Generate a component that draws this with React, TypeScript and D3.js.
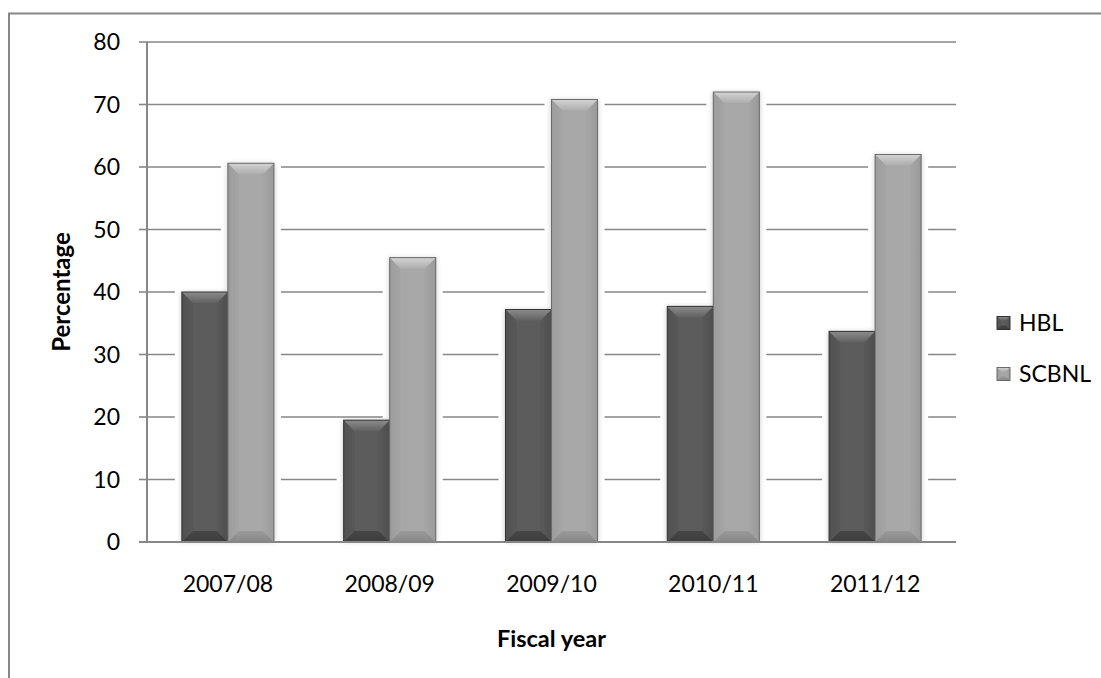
import React from "react";
import * as d3 from "d3";

// Fiscal years on the category axis
const years = ["2007/08", "2008/09", "2009/10", "2010/11", "2011/12"];
// Series names and values (percent)
const seriesNames = ["HBL", "SCBNL"];
const hblValues = [40.0, 19.5, 37.2, 37.7, 33.7];
const scbnlValues = [60.6, 45.5, 70.8, 72.0, 62.0];
// Value-axis ticks
const yTicks = [0, 10, 20, 30, 40, 50, 60, 70, 80];

const W = 1101;
const H = 678;
const plot = { left: 147, right: 956, top: 42, bottom: 542 };
const FONT = "Lato, 'Open Sans', 'DejaVu Sans', sans-serif";
const GRID = "#878787";

type Palette = {
  body: [string, string, string];
  top: [string, string];
  bottom: [string, string];
  side: string;
  stroke: string;
};

const palettes: Record<string, Palette> = {
  HBL: {
    body: ["#4e4e4e", "#5c5c5c", "#4b4b4b"],
    top: ["#8c8c8c", "#616161"],
    bottom: ["#474747", "#3c3c3c"],
    side: "#535353",
    stroke: "#333333",
  },
  SCBNL: {
    body: ["#979797", "#a8a8a8", "#959595"],
    top: ["#d4d4d4", "#adadad"],
    bottom: ["#9a9a9a", "#888888"],
    side: "#a0a0a0",
    stroke: "#6a6a6a",
  },
};

function Defs() {
  return (
    <defs>
      <filter id="soft" x="-50%" y="-10%" width="200%" height="120%">
        <feGaussianBlur stdDeviation="2.5" />
      </filter>
      {seriesNames.map((s) => {
        const p = palettes[s];
        return (
          <React.Fragment key={s}>
            <linearGradient id={`body-${s}`} x1="0" x2="1" y1="0" y2="0">
              <stop offset="0" stopColor={p.body[0]} />
              <stop offset="0.2" stopColor={p.body[1]} />
              <stop offset="0.8" stopColor={p.body[1]} />
              <stop offset="1" stopColor={p.body[2]} />
            </linearGradient>
            <linearGradient id={`top-${s}`} x1="0" x2="0" y1="0" y2="1">
              <stop offset="0" stopColor={p.top[0]} />
              <stop offset="1" stopColor={p.top[1]} />
            </linearGradient>
            <linearGradient id={`bottom-${s}`} x1="0" x2="0" y1="0" y2="1">
              <stop offset="0" stopColor={p.bottom[0]} />
              <stop offset="1" stopColor={p.bottom[1]} />
            </linearGradient>
          </React.Fragment>
        );
      })}
    </defs>
  );
}

function BevelBar({ x, y, w, h, s, bevel }: { x: number; y: number; w: number; h: number; s: string; bevel: number }) {
  const p = palettes[s];
  const b = Math.min(bevel, h / 2, w / 2);
  const pts = (arr: number[][]) => arr.map((q) => q.join(",")).join(" ");
  return (
    <g>
      <rect x={x} y={y} width={w} height={h} fill={`url(#body-${s})`} />
      <polygon points={pts([[x, y], [x + b, y + b], [x + b, y + h - b], [x, y + h]])} fill={p.side} opacity={0.55} />
      <polygon points={pts([[x + w, y], [x + w - b, y + b], [x + w - b, y + h - b], [x + w, y + h]])} fill={p.side} opacity={0.4} />
      <polygon points={pts([[x, y], [x + w, y], [x + w - b, y + b], [x + b, y + b]])} fill={`url(#top-${s})`} />
      <polygon points={pts([[x, y + h], [x + w, y + h], [x + w - b, y + h - b], [x + b, y + h - b]])} fill={`url(#bottom-${s})`} />
      <rect x={x} y={y} width={w} height={h} fill="none" stroke={p.stroke} strokeWidth={1} />
    </g>
  );
}

export default function App() {
  const x0 = d3
    .scaleBand<string>()
    .domain(years)
    .range([plot.left, plot.right])
    .paddingInner(0.431)
    .paddingOuter(0.2155);
  const x1 = d3.scaleBand<string>().domain(seriesNames).range([0, x0.bandwidth()]);
  const y = d3.scaleLinear().domain([0, 80]).range([plot.bottom, plot.top]);

  const values: Record<string, number[]> = { HBL: hblValues, SCBNL: scbnlValues };

  const bars = years.flatMap((yr, i) =>
    seriesNames.map((s) => {
      const v = values[s][i];
      const bx = (x0(yr) as number) + (x1(s) as number);
      return { key: `${yr}-${s}`, s, x: bx, y: y(v), w: x1.bandwidth(), h: y(0) - y(v) };
    })
  );

  return (
    <svg
      width={W}
      height={H}
      style={{ position: "absolute", left: 0, top: 0, background: "#fff" }}
      fontFamily={FONT}
    >
      <Defs />
      {/* outer chart frame */}
      <rect x={9} y={13.5} width={W + 20} height={H + 20} fill="#fff" stroke={GRID} strokeWidth={2} />

      {/* horizontal gridlines */}
      {yTicks.slice(1).map((t) => (
        <line key={t} x1={plot.left} x2={plot.right} y1={y(t)} y2={y(t)} stroke={GRID} strokeWidth={1.6} />
      ))}

      {/* glow and shadow round each bar */}
      {bars.map((d) => (
        <rect key={`g-${d.key}`} x={d.x - 7} y={d.y - 2} width={d.w + 14} height={d.h + 2} fill="#fff" />
      ))}
      {bars.map((d) => (
        <rect
          key={`sh-${d.key}`}
          x={d.x - 1}
          y={d.y}
          width={d.w + 2}
          height={d.h}
          fill="#000"
          opacity={0.18}
          filter="url(#soft)"
        />
      ))}

      {/* bars */}
      {bars.map((d) => (
        <BevelBar key={d.key} x={d.x} y={d.y} w={d.w} h={d.h} s={d.s} bevel={11} />
      ))}

      {/* value axis */}
      <line x1={plot.left} x2={plot.left} y1={plot.top} y2={plot.bottom} stroke={GRID} strokeWidth={2} />
      {yTicks.map((t) => (
        <g key={`t-${t}`}>
          <line x1={plot.left - 8} x2={plot.left} y1={y(t)} y2={y(t)} stroke={GRID} strokeWidth={1.6} />
          <text x={120} y={y(t)} dy="0.35em" textAnchor="end" fontSize={23} fill="#000">
            {t}
          </text>
        </g>
      ))}
      {/* category axis */}
      <line x1={plot.left - 8} x2={plot.right} y1={plot.bottom} y2={plot.bottom} stroke={GRID} strokeWidth={2} />
      {years.map((yr) => (
        <text
          key={yr}
          x={(x0(yr) as number) + x0.bandwidth() / 2}
          y={592}
          textAnchor="middle"
          fontSize={23}
          fill="#000"
        >
          {yr}
        </text>
      ))}

      {/* axis titles */}
      <text
        transform={`translate(70, ${(plot.top + plot.bottom) / 2}) rotate(-90)`}
        textAnchor="middle"
        fontSize={24}
        fontWeight="bold"
        fill="#000"
      >
        Percentage
      </text>
      <text x={(plot.left + plot.right) / 2} y={647} textAnchor="middle" fontSize={23.5} fontWeight="bold" fill="#000">
        Fiscal year
      </text>

      {/* legend */}
      {seriesNames.map((s, i) => {
        const cy = 323 + i * 51;
        return (
          <g key={`lg-${s}`}>
            <BevelBar x={997} y={cy - 6.5} w={13} h={13} s={s} bevel={4} />
            <text x={1019} y={cy} dy="0.35em" fontSize={23} fill="#000">
              {s}
            </text>
          </g>
        );
      })}
    </svg>
  );
}
